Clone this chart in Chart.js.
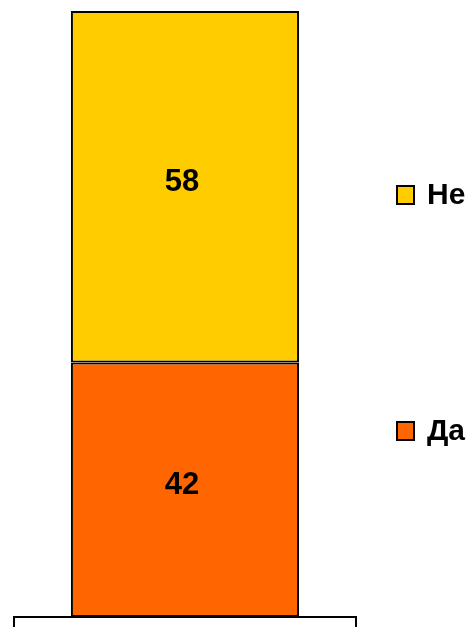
<!DOCTYPE html>
<html lang="ru">
<head>
    <meta charset="UTF-8">
    <title>Да / Не</title>
    <script src="https://cdn.jsdelivr.net/npm/chart.js"></script>
    <style>
        html, body { margin: 0; padding: 0; background: #fff; }
        #chart { display: block; }
    </style>
</head>
<body>
    <canvas id="chart" width="467" height="627"></canvas>
    <script>
        const categories = [''];
        const seriesNames = ['Да', 'Не'];
        const daValues = [42];
        const neValues = [58];
        const seriesColors = ['#FF6600', '#FFCC00'];

        // value labels in the middle of each segment
        const valueLabels = {
            id: 'valueLabels',
            afterDatasetsDraw(chart) {
                const ctx = chart.ctx;
                ctx.save();
                ctx.font = 'bold 31px "Liberation Sans", Arial, sans-serif';
                ctx.fillStyle = '#000';
                ctx.textAlign = 'center';
                ctx.textBaseline = 'middle';
                chart.data.datasets.forEach((ds, i) => {
                    chart.getDatasetMeta(i).data.forEach((bar, j) => {
                        const mid = (bar.y + bar.base) / 2;
                        ctx.fillText(ds.data[j], bar.x - 3, mid - 4);
                    });
                });
                ctx.restore();
            }
        };

        // legend on the right, items spread apart like the original
        const sideLegend = {
            id: 'sideLegend',
            afterDraw(chart) {
                const ctx = chart.ctx;
                const x = chart.chartArea.right + 41;
                const rows = { 'Не': 195, 'Да': 431 };
                ctx.save();
                ctx.font = 'bold 30px "Liberation Sans", Arial, sans-serif';
                ctx.textBaseline = 'middle';
                chart.data.datasets.forEach(ds => {
                    const y = rows[ds.label];
                    ctx.fillStyle = ds.backgroundColor;
                    ctx.fillRect(x, y - 9, 17, 18);
                    ctx.lineWidth = 2;
                    ctx.strokeStyle = '#000';
                    ctx.strokeRect(x, y - 9, 17, 18);
                    ctx.fillStyle = '#000';
                    ctx.fillText(ds.label, x + 30, y + 1);
                });
                ctx.restore();
            }
        };

        new Chart(document.getElementById('chart').getContext('2d'), {
            type: 'bar',
            data: {
                labels: categories,
                datasets: [
                    { label: seriesNames[0], data: daValues, backgroundColor: seriesColors[0] },
                    { label: seriesNames[1], data: neValues, backgroundColor: seriesColors[1] }
                ]
            },
            options: {
                responsive: false,
                animation: false,
                layout: { padding: { left: 14, right: 111, top: 11, bottom: 0 } },
                datasets: {
                    bar: {
                        borderColor: '#000',
                        borderWidth: 2,
                        borderSkipped: false,
                        categoryPercentage: 1,
                        barPercentage: 0.667
                    }
                },
                plugins: {
                    legend: { display: false },
                    tooltip: { enabled: false }
                },
                scales: {
                    x: {
                        stacked: true,
                        ticks: { display: false },
                        border: { display: true, color: '#000', width: 2 },
                        grid: {
                            offset: true,
                            drawOnChartArea: false,
                            drawTicks: true,
                            tickLength: 10,
                            color: '#000',
                            lineWidth: 2
                        }
                    },
                    y: {
                        stacked: true,
                        display: false,
                        min: 0,
                        max: 100
                    }
                }
            },
            plugins: [valueLabels, sideLegend]
        });
    </script>
</body>
</html>
